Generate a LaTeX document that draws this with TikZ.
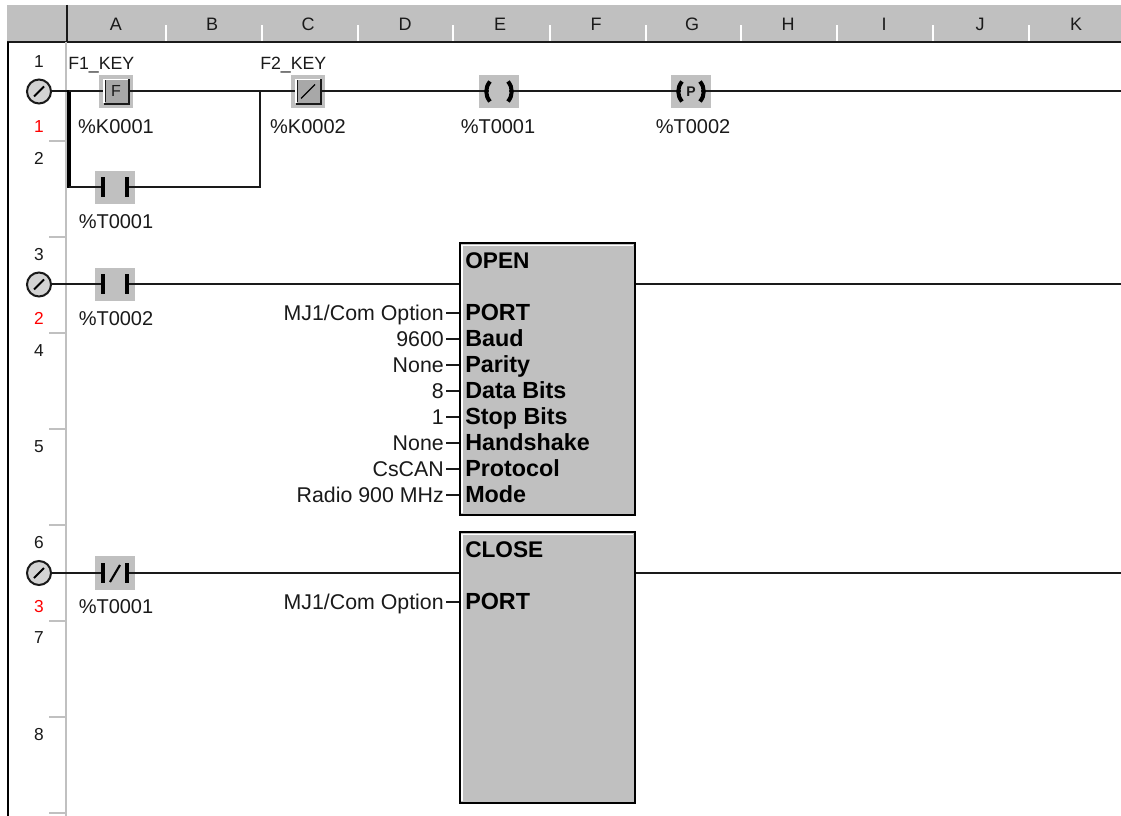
\documentclass[tikz,border=0pt]{standalone}
\usepackage{fontspec}
\usetikzlibrary{calc}
\setmainfont{Liberation Sans}
\definecolor{panel}{HTML}{C0C0C0}
\definecolor{ink}{HTML}{1A1A1A}
\definecolor{btnshade}{HTML}{A8A8A8}
\tikzset{
  wire/.style={draw=ink,line width=1.5pt},
  bus/.style={draw=black,line width=3pt},
  rail/.style={draw=panel,line width=1.5pt},
  tick/.style={draw=panel,line width=1.5pt},
  headtick/.style={draw=white,line width=1pt},
  colhead/.style={inner sep=0,text=ink,font=\fontsize{13.5}{14}\selectfont},
  rownum/.style={inner sep=0,text=ink,font=\fontsize{13}{14}\selectfont},
  rednum/.style={rownum,text=red},
  addr/.style={inner sep=0,text=ink,font=\fontsize{15}{16}\selectfont},
  keyname/.style={inner sep=0,text=ink,font=\fontsize{13.3}{16}\selectfont},
  arg/.style={inner sep=0,anchor=base east,text=ink,font=\fontsize{16}{16}\selectfont},
  pin/.style={inner sep=0,anchor=base west,text=black,font=\fontsize{17.5}{18}\bfseries\selectfont},
  blocktitle/.style={inner sep=0,anchor=west,text=black,font=\fontsize{17}{18}\bfseries\selectfont},
  cell/.style={fill=panel,minimum width=30pt,minimum height=25pt,inner sep=0,draw=none},
  block/.style={fill=panel,draw=black,line width=1.5pt,minimum width=131.25pt,minimum height=203.5pt,inner sep=0},
  gear/.style={circle,draw=ink,line width=1.5pt,fill=panel!70,minimum size=18pt,inner sep=0},
  slash/.style={draw=black,line width=1.5pt},
  bar/.style={draw=black,line width=3pt},
}
\begin{document}
\begin{tikzpicture}[x=0.75pt,y=-0.75pt]
\useasboundingbox (0,0) rectangle (1121,816);
\fill[white] (0,0) rectangle (1121,816);
% header
\fill[panel] (7,5) rectangle (1121,41);
\draw[ink,line width=1.5pt] (7,42) -- (1121,42);
\draw[ink,line width=1.5pt] (67,5) -- (67,42);
\foreach \x in {166,262,358,453,550,646,741,837,933,1029}{\draw[headtick] (\x,25) -- (\x,41);}
\node[colhead] (cA) at (116,24) {A};
\node[colhead] (cB) at (212,24) {B};
\node[colhead] (cC) at (308,24) {C};
\node[colhead] (cD) at (405,24) {D};
\node[colhead] (cE) at (500,24) {E};
\node[colhead] (cF) at (596,24) {F};
\node[colhead] (cG) at (692,24) {G};
\node[colhead] (cH) at (788,24) {H};
\node[colhead] (cI) at (884,24) {I};
\node[colhead] (cJ) at (980,24) {J};
\node[colhead] (cK) at (1076,24) {K};
% margin
\draw[black,line width=1.5pt] (7.5,42) -- (7.5,816);
\draw[rail] (66,42) -- (66,816);
\foreach \y in {141,237,333,429,525,621,717,813}{\draw[tick] (49,\y) -- (66,\y);}
\node[rownum] (r1) at (39,62) {1};
\node[rednum] (s1) at (39,127) {1};
\node[rownum] (r2) at (39,158) {2};
\node[rownum] (r3) at (39,255) {3};
\node[rednum] (s2) at (39,318) {2};
\node[rownum] (r4) at (39,351) {4};
\node[rownum] (r5) at (39,447) {5};
\node[rownum] (r6) at (39,543) {6};
\node[rednum] (s3) at (39,607) {3};
\node[rownum] (r7) at (39,638) {7};
\node[rownum] (r8) at (39,735) {8};
% rung power points
\node[gear] (g1) at (39,91.5) {};
\node[gear] (g2) at (39,284.5) {};
\node[gear] (g3) at (39,573) {};
\foreach \g in {g1,g2,g3}{\draw[slash] ($(\g)+(-5,5)$) -- ($(\g)+(5,-5)$);}
% cells
\node[cell,minimum width=25.5pt] (kF) at (116,91.5) {};
\node[cell,minimum width=25.5pt] (kS) at (308,91.5) {};
\node[cell] (t1) at (115,187.5) {};
\node[cell] (coil1) at (499,91.5) {};
\node[cell] (coil2) at (691,91.5) {};
\node[cell] (t2) at (115,284.5) {};
\node[cell] (t3) at (115,573) {};
\node[block] (open) at (547.5,379) {};
\node[block] (close) at (547.5,667.5) {};
% block bevels
\draw[white,line width=1pt] (462,513) -- (462,245.5) -- (633,245.5);
\draw[white,line width=1pt] (462,801) -- (462,534.5) -- (633,534.5);
% wires
\coordinate (n1) at (260,91.5);
\coordinate (n2) at (260,187.5);
\coordinate (b1) at (68.5,91.5);
\coordinate (b2) at (68.5,187.5);
\coordinate (e1) at (1121,91.5);
\coordinate (e2) at (1121,284.5);
\coordinate (e3) at (1121,573);
\draw[wire] (g1.east) -- (b1);
\draw[bus] ($(b1)+(0,-1)$) -- ($(b2)+(0,1)$);
\draw[wire] (b1) -- (kF.center);
\draw[wire] (kF.center) -- (n1) -- (kS.center);
\draw[wire] (kS.center) -- (coil1.center) -- (coil2.center) -- (e1);
\draw[wire] (b2) -- (t1.center) -- (n2) -- (n1);
\draw[wire] (g2.east) -- (t2.center) -- (open.west |- t2);
\draw[wire] (open.east |- e2) -- (e2);
\draw[wire] (g3.east) -- (t3.center) -- (close.west |- t3);
\draw[wire] (close.east |- e3) -- (e3);
% F buttons
\foreach \k in {kF,kS}{
  \fill[btnshade] ($(\k)+(-11,-11)$) rectangle ($(\k)+(12,12)$);
  \draw[white,line width=1pt] ($(\k)+(-12,12)$) -- ($(\k)+(-12,-12)$) -- ($(\k)+(12,-12)$);
  \draw[ink,line width=1.5pt] ($(\k)+(-12,12.5)$) -- ($(\k)+(13,12.5)$) -- ($(\k)+(13,-12)$);
  \draw[ink,line width=0.75pt] ($(\k)+(-11,-11)$) -- ($(\k)+(-11,11)$);
}
\node[inner sep=0,text=ink,font=\fontsize{12}{12}\selectfont] (fl) at (kF) {F};
\draw[slash,line width=1pt] ($(kS)+(-7,7)$) -- ($(kS)+(7,-7)$);
% contacts
\foreach \k in {t1,t2,t3}{
  \fill[panel] ($(\k)+(-10,-10)$) rectangle ($(\k)+(10,10)$);
  \draw[bar] ($(\k)+(-12,-10)$) -- ($(\k)+(-12,10)$);
  \draw[bar] ($(\k)+(12,-10)$) -- ($(\k)+(12,10)$);
}
\draw[slash,line width=1.6pt] ($(t3)+(-5,9)$) -- ($(t3)+(5,-8)$);
% coils
\foreach \k in {coil1,coil2}{
  \fill[panel] ($(\k)+(-10,-12)$) rectangle ($(\k)+(10,12)$);
  \draw[black,line width=3pt] ($(\k)+(-9,-10)$) .. controls ($(\k)+(-14,-4)$) and ($(\k)+(-14,4)$) .. ($(\k)+(-9,10)$);
  \draw[black,line width=3pt] ($(\k)+(9,-10)$) .. controls ($(\k)+(14,-4)$) and ($(\k)+(14,4)$) .. ($(\k)+(9,10)$);
}
\node[inner sep=0,text=ink,font=\fontsize{10.5}{11}\bfseries\selectfont] (pl) at (coil2) {P};
% contact & coil labels
\node[keyname,anchor=west] (f1) at (68,65) {F1\_KEY};
\node[keyname,anchor=west] (f2) at (260,65) {F2\_KEY};
\node[addr] (a1) at (116,127) {\%K0001};
\node[addr] (a2) at (308,127) {\%K0002};
\node[addr] (a3) at (116,222) {\%T0001};
\node[addr] (a4) at (498,127) {\%T0001};
\node[addr] (a5) at (693,127) {\%T0002};
\node[addr] (a6) at (116,319) {\%T0002};
\node[addr] (a7) at (116,607) {\%T0001};
% block text
\node[blocktitle] (ot) at (465,261) {OPEN};
\node[blocktitle] (ct) at (465,550) {CLOSE};
\foreach \n/\y/\aa/\pp in {a/313/MJ1\slash Com Option/PORT,b/339/9600/Baud,c/365/None/Parity,d/391/8/Data Bits,e/417/1/Stop Bits,f/443/None/Handshake,g/469/CsCAN/Protocol,h/495/Radio 900 MHz/Mode}{
  \coordinate (lv\n) at (444,\y);
  \node[arg] (arg\n) at ($(lv\n)+(0,7.5)$) {\aa};
  \node[pin] (pin\n) at ($(465,\y)+(0,7.5)$) {\pp};
  \draw[ink,line width=1pt] ($(lv\n)+(2,0)$) -- (open.west |- lv\n);
}
\coordinate (lvz) at (444,602);
\node[arg] (argz) at ($(lvz)+(0,7.5)$) {MJ1\slash Com Option};
\node[pin] (pinz) at (465,609.5) {PORT};
\draw[ink,line width=1pt] ($(lvz)+(2,0)$) -- (close.west |- lvz);
\end{tikzpicture}
\end{document}
